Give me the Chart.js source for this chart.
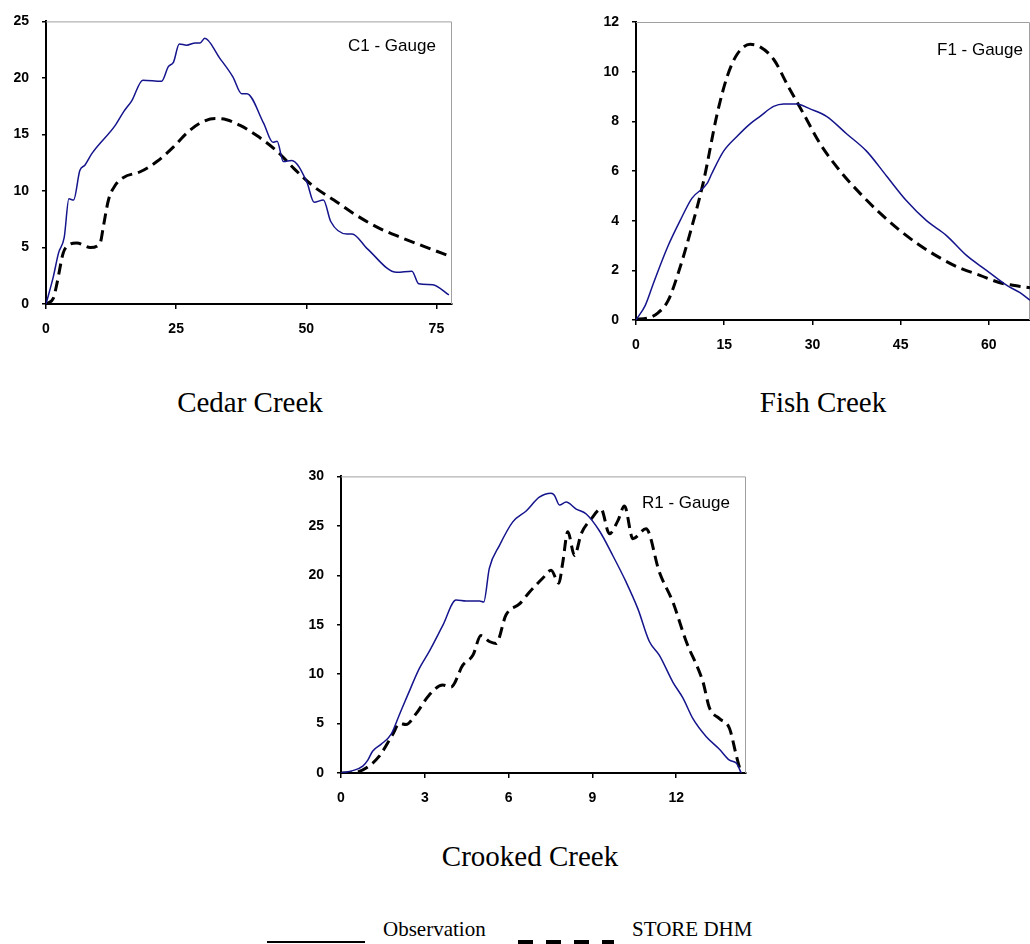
<!DOCTYPE html>
<html>
<head>
<meta charset="utf-8">
<title>Hydrographs</title>
<script src="https://cdn.jsdelivr.net/npm/chart.js@4"></script>
<style>
  body { margin: 0; background: #fff; width: 1030px; height: 944px; position: relative; overflow: hidden; }
  canvas { position: absolute; }
  .gauge { position: absolute; font-family: "Liberation Sans", Arial, sans-serif; font-size: 17px; line-height: 17px; color: #000; white-space: nowrap; }
  .title { position: absolute; font-family: "Liberation Serif", "Times New Roman", serif; font-size: 29px; line-height: 29px; text-align: center; white-space: nowrap; }
  .leg { position: absolute; font-family: "Liberation Serif", "Times New Roman", serif; font-size: 21px; line-height: 21px; white-space: nowrap; }
</style>
</head>
<body>
<canvas id="c1" width="470" height="360" style="left:0px;top:0px"></canvas>
<canvas id="c2" width="440" height="380" style="left:590px;top:0px"></canvas>
<canvas id="c3" width="470" height="360" style="left:295px;top:455px"></canvas>

<div class="gauge" style="left:348px;top:37px">C1 - Gauge</div>
<div class="gauge" style="left:937px;top:41px">F1 - Gauge</div>
<div class="gauge" style="left:642px;top:494px">R1 - Gauge</div>

<div class="title" style="left:150px;top:388px;width:200px">Cedar Creek</div>
<div class="title" style="left:723px;top:388px;width:200px">Fish Creek</div>
<div class="title" style="left:430px;top:842px;width:200px">Crooked Creek</div>

<!-- legend onderaan -->
<div style="position:absolute;left:267px;top:941px;width:98px;height:2px;background:#000"></div>
<div class="leg" style="left:383px;top:919px">Observation</div>
<div style="position:absolute;left:518px;top:940px;width:96px;height:4px;background:repeating-linear-gradient(to right,#000 0 15px,transparent 15px 28px)"></div>
<div class="leg" style="left:632px;top:919px">STORE DHM</div>

<script>
// Cedar Creek (C1)
const cedarObsX = [0, 1.4, 2.4, 3.5, 4.4, 5.3, 6.5, 7.5, 8.8, 13.3, 14.9, 16.5, 18.6, 22.2, 23.5, 24.5, 25.6, 27.0, 28.7, 29.6, 30.5, 33.3, 35.9, 37.6, 38.6, 41.8, 43.6, 44.4, 45.6, 47.2, 50.1, 51.5, 53.3, 54.7, 57.8, 58.8, 61.7, 67.4, 70.3, 71.6, 74.3, 77.4];
const cedarObsY = [0, 2.4, 4.5, 5.9, 9.3, 9.2, 11.8, 12.3, 13.3, 15.8, 17.0, 18.0, 19.8, 19.7, 21.0, 21.4, 23.0, 22.9, 23.1, 23.1, 23.5, 21.8, 20.1, 18.6, 18.6, 16.0, 14.3, 14.4, 12.6, 12.7, 10.8, 9.0, 9.2, 7.3, 6.2, 6.2, 4.9, 2.8, 2.9, 1.8, 1.7, 0.8];
const cedarSimX = [0, 1.4, 2.1, 3.3, 4.3, 5.9, 8.5, 10.4, 11.0, 12.0, 13.3, 14.9, 18.1, 21.3, 24.5, 27.0, 29.6, 32.5, 34.7, 37.3, 40.5, 44.4, 47.6, 51.4, 55.3, 59.1, 63.6, 68.1, 72.6, 77.7];
const cedarSimY = [0, 0.5, 1.8, 4.5, 5.2, 5.4, 5.0, 5.4, 6.8, 9.2, 10.5, 11.2, 11.7, 12.6, 13.9, 15.1, 16.0, 16.4, 16.3, 15.8, 14.9, 13.5, 12.0, 10.4, 9.2, 8.0, 6.8, 5.9, 5.1, 4.2];
const cedarTicksX = [0, 25, 50, 75];

// Fish Creek (F1)
const fishObsX = [0, 1.6, 3.0, 5.3, 7.5, 9.5, 12.1, 12.9, 14.9, 17.2, 19.4, 21.1, 23.4, 25.1, 27.3, 29.6, 32.4, 35.8, 39.2, 42.6, 46.0, 49.4, 52.8, 56.2, 59.6, 63.0, 65.3, 67];
const fishObsY = [0, 0.6, 1.5, 2.9, 4.0, 4.9, 5.5, 5.9, 6.8, 7.4, 7.9, 8.2, 8.6, 8.7, 8.7, 8.5, 8.2, 7.5, 6.8, 5.8, 4.8, 4.0, 3.4, 2.6, 2.0, 1.4, 1.1, 0.8];
const fishSimX = [0, 1.9, 3.8, 5.5, 7.2, 9.2, 11.5, 13.8, 15.5, 17.2, 19.4, 21.1, 23.4, 25.9, 28.5, 31.3, 34.7, 38.1, 41.5, 44.9, 48.3, 51.7, 55.0, 58.5, 61.9, 64.1, 67];
const fishSimY = [0.03, 0.07, 0.3, 0.8, 1.9, 3.5, 5.6, 8.3, 9.8, 10.7, 11.1, 11.0, 10.5, 9.4, 8.3, 7.1, 6.0, 5.1, 4.3, 3.6, 3.0, 2.5, 2.1, 1.8, 1.5, 1.4, 1.3];
const fishTicksX = [0, 15, 30, 45, 60];

// Crooked Creek (R1)
const crookObsX = [0, 0.42, 0.78, 0.96, 1.13, 1.43, 1.79, 2.09, 2.39, 2.81, 3.16, 3.64, 4.12, 4.48, 4.96, 5.11, 5.31, 5.67, 6.15, 6.63, 7.10, 7.52, 7.64, 7.82, 8.06, 8.42, 8.78, 9.25, 9.73, 10.21, 10.63, 11.04, 11.40, 11.88, 12.24, 12.60, 13.07, 13.55, 13.91, 14.15, 14.33];
const crookObsY = [0, 0.24, 0.7, 1.3, 2.2, 2.9, 3.9, 5.9, 7.9, 10.6, 12.3, 14.9, 17.5, 17.4, 17.4, 17.3, 20.7, 23.0, 25.4, 26.5, 27.9, 28.3, 28.1, 27.1, 27.4, 26.7, 26.2, 24.5, 22.0, 19.3, 16.6, 13.3, 11.9, 9.2, 7.6, 5.5, 3.7, 2.4, 1.3, 1.0, 0];
const crookSimX = [0, 0.54, 0.90, 1.37, 1.85, 2.09, 2.33, 2.69, 3.16, 3.64, 3.94, 4.36, 4.72, 5.01, 5.31, 5.55, 5.91, 6.39, 6.75, 7.22, 7.52, 7.80, 7.94, 8.12, 8.36, 8.60, 8.96, 9.31, 9.61, 9.91, 10.15, 10.45, 10.92, 11.40, 11.88, 12.36, 12.96, 13.19, 13.55, 13.91, 14.15, 14.27];
const crookSimY = [0, 0.07, 0.5, 1.7, 3.9, 5.0, 4.9, 6.0, 7.9, 8.9, 8.7, 10.9, 11.9, 13.9, 13.3, 13.1, 16.0, 17.1, 18.3, 19.7, 20.5, 19.2, 21.3, 24.4, 22.0, 24.2, 25.7, 26.7, 24.2, 25.5, 27.0, 23.7, 24.7, 20.3, 17.3, 13.3, 9.2, 6.6, 5.5, 4.5, 1.8, 0.5];
const crookTicksX = [0, 3, 6, 9, 12];

// x en y samenvoegen tot punten
function toPoints(xs, ys) {
  const pts = [];
  for (let i = 0; i < xs.length; i++) {
    pts.push({ x: xs[i], y: ys[i] });
  }
  return pts;
}

// grijze rand boven en rechts
const frame = {
  id: 'frame',
  beforeDatasetsDraw(chart) {
    const a = chart.chartArea;
    const ctx = chart.ctx;
    ctx.save();
    ctx.strokeStyle = '#a0a0a0';
    ctx.lineWidth = 1;
    ctx.beginPath();
    ctx.moveTo(a.left, a.top + 0.5);
    ctx.lineTo(a.right - 0.5, a.top + 0.5);
    ctx.lineTo(a.right - 0.5, a.bottom);
    ctx.stroke();
    ctx.restore();
  }
};

const tickFont = { family: '"Liberation Sans", Arial, sans-serif', size: 14, weight: 'bold' };

function makeChart(el, obsX, obsY, simX, simY, xMax, xTicks, yMax, yStep, xHeight, pad) {
  new Chart(el, {
    type: 'line',
    data: {
      datasets: [
        {
          label: 'Observation',
          data: toPoints(obsX, obsY),
          borderColor: '#14148c',
          borderWidth: 1.5,
          pointRadius: 0,
          cubicInterpolationMode: 'monotone',
          fill: false
        },
        {
          label: 'STORE DHM',
          data: toPoints(simX, simY),
          borderColor: '#000',
          borderWidth: 3,
          borderDash: [11, 6],
          pointRadius: 0,
          cubicInterpolationMode: 'monotone',
          fill: false
        }
      ]
    },
    options: {
      responsive: false,
      animation: false,
      layout: { padding: pad },
      plugins: { legend: { display: false }, tooltip: { enabled: false } },
      scales: {
        x: {
          type: 'linear',
          min: 0,
          max: xMax,
          // alleen de ticks uit de lijst tonen
          afterBuildTicks: s => { s.ticks = xTicks.map(v => ({ value: v })); },
          afterFit: s => { s.height = xHeight; },
          ticks: { color: '#000', font: tickFont, padding: 12, maxRotation: 0, autoSkip: false },
          grid: { drawOnChartArea: false, drawTicks: true, tickLength: 5, color: '#000', lineWidth: 1.5 },
          border: { display: true, color: '#000', width: 2 }
        },
        y: {
          min: 0,
          max: yMax,
          afterFit: s => { s.width = 46; },
          ticks: { stepSize: yStep, color: '#000', font: tickFont, padding: 13 },
          grid: { drawOnChartArea: false, drawTicks: true, tickLength: 4, color: '#000', lineWidth: 1.5 },
          border: { display: true, color: '#000', width: 2 }
        }
      }
    },
    plugins: [frame]
  });
}

makeChart(document.getElementById('c1'), cedarObsX, cedarObsY, cedarSimX, cedarSimY, 78, cedarTicksX, 25, 5, 56, { top: 21, right: 18, left: 0, bottom: 0 });
makeChart(document.getElementById('c2'), fishObsX, fishObsY, fishSimX, fishSimY, 67, fishTicksX, 12, 2, 60, { top: 22, right: 0, left: 0, bottom: 0 });
makeChart(document.getElementById('c3'), crookObsX, crookObsY, crookSimX, crookSimY, 14.5, crookTicksX, 30, 5, 42, { top: 21, right: 19, left: 0, bottom: 0 });
</script>
</body>
</html>
